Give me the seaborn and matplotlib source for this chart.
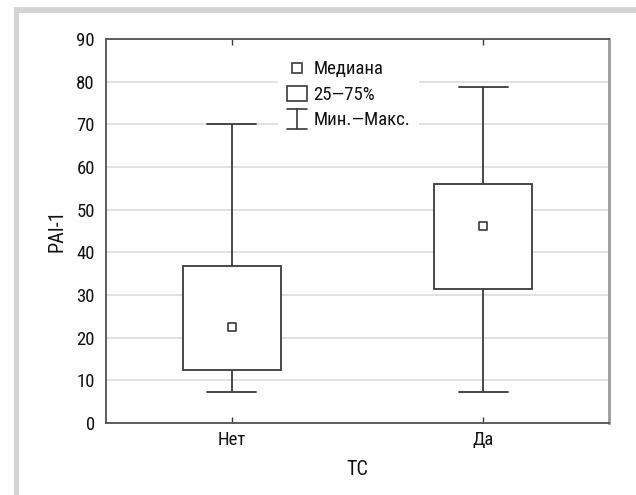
import numpy as np
import pandas as pd
import matplotlib
matplotlib.use("Agg")
import matplotlib.pyplot as plt
import seaborn as sns
from matplotlib import font_manager as fm
from matplotlib.lines import Line2D
from matplotlib.patches import Rectangle
from matplotlib.legend_handler import HandlerBase

# ---- data ----
groups = ["Нет", "Да"]
mins = [7.3, 7.3]
q1s = [12.5, 31.5]
medians = [22.6, 46.1]
q3s = [36.8, 56.0]
maxs = [70.0, 78.8]

y_ticks = [0, 10, 20, 30, 40, 50, 60, 70, 80, 90]
x_label = "ТС"
y_label = "PAI-1"
legend_labels = ["Медиана", "25—75%", "Мин.—Макс."]

# five-number rows -> quartiles reproduce exactly with linear percentiles
rows = []
for g, a, b, c, d, e in zip(groups, mins, q1s, medians, q3s, maxs):
    for v in (a, b, c, d, e):
        rows.append({"group": g, "value": v})
df = pd.DataFrame(rows)
med_df = pd.DataFrame({"group": groups, "value": medians})

sns.set_theme(style="white")

# pick a condensed font if one is installed
fonts = fm.fontManager.ttflist
names = {f.name for f in fonts}
FAM = None
STRETCH = "normal"
for cand in ["Liberation Sans Narrow", "Roboto Condensed", "Open Sans Condensed",
             "DejaVu Sans Condensed", "Noto Sans Condensed"]:
    if cand in names:
        FAM = [cand, "DejaVu Sans"]
        break
if FAM is None:
    cond = [f for f in fonts if isinstance(f.stretch, str) and "ondensed" in f.stretch]
    if cond:
        FAM = [cond[0].name, "DejaVu Sans"]
        STRETCH = cond[0].stretch
    else:
        FAM = ["Roboto", "DejaVu Sans"]
plt.rcParams["font.family"] = FAM
plt.rcParams["font.stretch"] = STRETCH

EDGE = "#3a3a3a"
TXT = "#111111"
fig = plt.figure(figsize=(6.36, 4.95), dpi=100)
ax = fig.add_axes([106 / 636, 1 - 423 / 495, 503 / 636, 384 / 495])

# outer frame decoration
fig.add_artist(Rectangle((14 / 636, 0), 5 / 636, 1 - 7 / 495, transform=fig.transFigure,
                         facecolor="#d4d4d4", edgecolor="none", zorder=0))
fig.add_artist(Rectangle((14 / 636, 1 - 13 / 495), 1, 6 / 495, transform=fig.transFigure,
                         facecolor="#d4d4d4", edgecolor="none", zorder=0))

sns.boxplot(data=df, x="group", y="value", order=groups, whis=(0, 100), width=0.39,
            color="white", linecolor=EDGE, linewidth=1.3, ax=ax,
            medianprops=dict(linewidth=0, alpha=0),
            boxprops=dict(facecolor="white", edgecolor=EDGE, zorder=3),
            whiskerprops=dict(color=EDGE, zorder=3),
            capprops=dict(color=EDGE, zorder=3),
            showfliers=False)
sns.stripplot(data=med_df, x="group", y="value", order=groups, jitter=False, marker="s",
              size=6, color="white", edgecolor=EDGE, linewidth=1.2, ax=ax, zorder=5)

ax.set_xlim(-0.5, 1.5)
ax.set_ylim(0, 90)
ax.set_yticks(y_ticks)
ax.grid(axis="y", color="#dcdcdc", linewidth=1.2, zorder=0)
ax.set_axisbelow(True)
ax.tick_params(axis="y", length=0, pad=8, labelsize=13.5, labelcolor=TXT)
ax.tick_params(axis="x", direction="in", length=4, width=1, color=EDGE, top=True,
               bottom=True, pad=6, labelsize=13.5, labelcolor=TXT)
ax.set_xlabel(x_label, fontsize=14.5, color=TXT)
ax.set_ylabel(y_label, fontsize=14.5, color=TXT)
ax.yaxis.set_label_coords((67 - 106) / 503, 0.5)
ax.xaxis.set_label_coords(0.5, (423 - 460) / 384)
for side in ["left", "top", "bottom"]:
    ax.spines[side].set_color("#505050")
    ax.spines[side].set_linewidth(1.3)
ax.spines["right"].set_color("#9a9a9a")
ax.spines["right"].set_linewidth(2)


class SquareHandler(HandlerBase):
    def __init__(self, w, h, lw=1.2):
        super().__init__()
        self.w, self.h, self.lw = w, h, lw

    def create_artists(self, legend, orig_handle, xdescent, ydescent, width, height, fontsize, trans):
        cx = -xdescent + width / 2
        cy = -ydescent + height / 2
        r = Rectangle((cx - self.w / 2, cy - self.h / 2), self.w, self.h, facecolor="white",
                      edgecolor=EDGE, linewidth=self.lw, transform=trans)
        return [r]


class WhiskerHandler(HandlerBase):
    def create_artists(self, legend, orig_handle, xdescent, ydescent, width, height, fontsize, trans):
        cx = -xdescent + width / 2
        cy = -ydescent + height / 2
        hw = 7.0
        top = cy + 7
        bot = cy - 7
        l1 = Line2D([cx - hw, cx + hw], [top, top], color=EDGE, lw=1.2, transform=trans)
        l2 = Line2D([cx, cx], [bot, top], color=EDGE, lw=1.2, transform=trans)
        l3 = Line2D([cx - hw, cx + hw], [bot, bot], color=EDGE, lw=1.2, transform=trans)
        return [l1, l2, l3]


class H1: pass
class H2: pass
class H3: pass
handles = [H1(), H2(), H3()]
leg = ax.legend(handles, legend_labels,
                handler_map={H1: SquareHandler(7, 7), H2: SquareHandler(14, 10.5),
                             H3: WhiskerHandler()},
                loc="upper left", bbox_to_anchor=((278 - 106) / 503, (423 - 51) / 384),
                borderaxespad=0, borderpad=0.45, frameon=True, framealpha=1,
                edgecolor="none", facecolor="white", fancybox=False,
                handlelength=1.15, handleheight=1.0, handletextpad=0.3, labelspacing=0.36,
                fontsize=13.5)
leg.set_zorder(6)
for t in leg.get_texts():
    t.set_color(TXT)

fig.savefig("out.png", dpi=100)
